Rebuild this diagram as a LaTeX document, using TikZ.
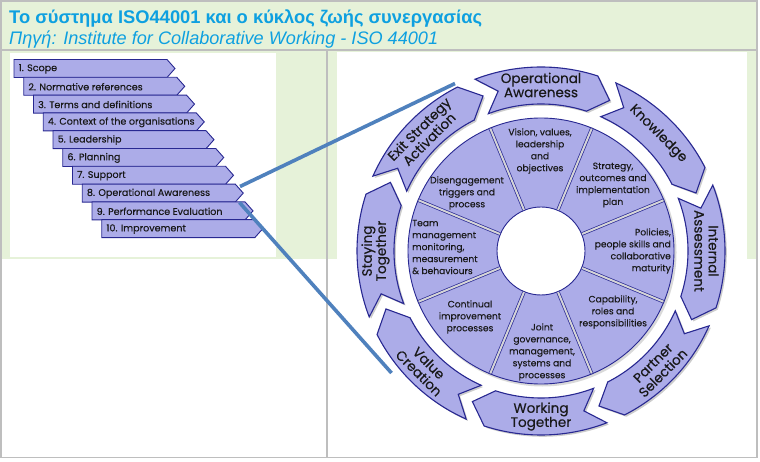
\documentclass[tikz,border=0pt]{standalone}
\usepackage{fontspec}
\setmainfont{Liberation Sans}
\newfontfamily\wheelfont[FakeBold=0.35]{Poppins}
\newfontfamily\wheelfontm[FakeBold=0.15]{Poppins}
\definecolor{lav}{RGB}{172,172,232}
\definecolor{navy}{RGB}{40,40,145}
\definecolor{framegray}{RGB}{190,190,190}
\definecolor{cellgreen}{RGB}{230,242,217}
\definecolor{titleblue}{RGB}{14,160,224}
\definecolor{linkblue}{RGB}{79,129,189}
\definecolor{txtdark}{RGB}{25,25,25}
\definecolor{gapgray}{RGB}{212,212,215}
\begin{document}
\begin{tikzpicture}[x=1bp,y=-1bp,
  listarrow/.style={fill=lav,draw=navy,line width=0.9bp,line join=miter},
  listtext/.style={anchor=west,inner sep=0,text=txtdark,font=\wheelfont\fontsize{9.6}{10}\selectfont},
  seg/.style={fill=lav,draw=navy,line width=0.9bp},
  divider/.style={draw=navy,line width=0.7bp,double=gapgray,double distance=2bp},
  ringarrow/.style={fill=lav,draw=navy,line width=1.1bp,line join=miter},
  ringshadow/.style={fill=black,opacity=0.2},
  outerlbl/.style={inner sep=0,align=center,text=txtdark,font=\wheelfont\fontsize{13.6}{14.2}\selectfont},
  innerlbl/.style={inner sep=0,align=center,text=txtdark,font=\wheelfontm\fontsize{9.2}{12}\selectfont},
  link/.style={draw=linkblue,line width=3.6bp}]
\useasboundingbox (0,0) rectangle (760,462);
% background and table
\fill[white] (0,0) rectangle (760,462);
\fill[cellgreen] (1,1) rectangle (757,259);
\fill[white] (10,53) rectangle (276,257);
\fill[white] (337,52) rectangle (747,457);
\draw[framegray,line width=1.3bp] (1,1) rectangle (757,457.5);
\draw[framegray,line width=1.3bp] (1,50) -- (757,50);
\draw[framegray,line width=1.3bp] (327,50) -- (327,457.5);
% title
\node[anchor=base west,inner sep=0,text=titleblue,font=\bfseries\fontsize{18.4}{20}\selectfont] (title) at (9,24) {Το σύστημα ISO44001 και ο κύκλος ζωής συνεργασίας};
\node[anchor=base west,inner sep=0,text=titleblue,font=\itshape\fontsize{18.2}{20}\selectfont] (subtitle) at (9,44.5) {Πηγή: Institute for Collaborative Working - ISO 44001};
% left list
\foreach \lbl [count=\i] in {1. Scope,2. Normative references,3. Terms and definitions,4. Context of the organisations,5. Leadership,6. Planning,7. Support,8. Operational Awareness,9. Performance Evaluation,10. Improvement} {
  \pgfmathsetmacro\L{14+(\i-1)*9.75}
  \pgfmathsetmacro\T{59.5+(\i-1)*17.8}
  \draw[listarrow] (\L,\T) -- ++(153,0) -- ++(8,9) -- ++(-8,9) -- ++(-153,0) -- cycle;
  \node[listtext] (li\i) at (\L+4.5,\T+9.4) {\lbl};
}
\coordinate (p8a) at (240,186.5);
\coordinate (p8b) at (239.5,202.5);
% wheel
\begin{scope}[shift={(541,251)},x=1bp,y=1bp]
  \foreach \c in {90,45,0,-45,-90,-135,180,135} {
    \fill[ringshadow,shift={(1.8,-1.8)}] ({\c+21}:184) arc[start angle=\c+21,end angle=\c-18,radius=184] -- ({\c-24.5}:165.5) -- ({\c-18}:147) arc[start angle=\c-18,end angle=\c+21,radius=147] -- ({\c+15}:165.5) -- cycle;
    \draw[ringarrow] ({\c+21}:184) arc[start angle=\c+21,end angle=\c-18,radius=184] -- ({\c-24.5}:165.5) -- ({\c-18}:147) arc[start angle=\c-18,end angle=\c+21,radius=147] -- ({\c+15}:165.5) -- cycle;
  }
  \node[outerlbl] (oa) at (90:166) {Operational\\Awareness};
  \node[outerlbl,rotate=-45] (kn) at (45:165.5) {Knowledge};
  \node[outerlbl,rotate=-90] (ia) at (0:165.5) {Internal\\Assessment};
  \node[outerlbl,rotate=45] (ps) at (-45:165.5) {Partner\\Selection};
  \node[outerlbl] (wt) at (-90:165.5) {Working\\Together};
  \node[outerlbl,rotate=-45] (vc) at (-135:165.5) {Value\\Creation};
  \node[outerlbl,rotate=90] (st) at (180:165.5) {Staying\\Together};
  \node[outerlbl,rotate=45] (es) at (135:165.5) {Exit Strategy\\Activation};
  \fill[black,opacity=0.15] (1.5,-1.5) circle[radius=134];
  \fill[white] (0,0) circle[radius=45];
  \foreach \a in {22.5,67.5,112.5,157.5,202.5,247.5,292.5,337.5} {
    \draw[seg] ({\a}:44) -- ({\a}:133) arc[start angle=\a,end angle=\a+45,radius=133] -- ({\a+45}:44) arc[start angle=\a+45,end angle=\a,radius=44] -- cycle;
  }
  \foreach \a in {22.5,67.5,112.5,157.5,202.5,247.5,292.5,337.5} {
    \draw[divider] ({\a}:44.5) -- ({\a}:132.5);
  }
  \node[innerlbl] (s1) at (-1,100) {Vision, values,\\leadership\\and\\objectives};
  \node[innerlbl] (s2) at (72,66) {Strategy,\\outcomes and\\implementation\\plan};
  \node[innerlbl,align=right,anchor=east] (s3) at (130,0) {Policies,\\people skills and\\collaborative\\maturity};
  \node[innerlbl] (s4) at (72,-61) {Capability,\\roles and\\responsibilities};
  \node[innerlbl] (s5) at (1,-101) {Joint\\governance,\\management,\\systems and\\processes};
  \node[innerlbl] (s6) at (-71,-66) {Continual\\improvement\\processes};
  \node[innerlbl,align=left,anchor=west] (s7) at (-129,4) {Team\\management\\monitoring,\\measurement\\\& behaviours};
  \node[innerlbl] (s8) at (-74,58) {Disengagement\\triggers and\\process};
\end{scope}
\coordinate (q1) at (455,83.5);
\coordinate (q2) at (391.5,373);
\draw[link] (p8a) -- (q1);
\draw[link] (p8b) -- (q2);
\end{tikzpicture}
\end{document}
